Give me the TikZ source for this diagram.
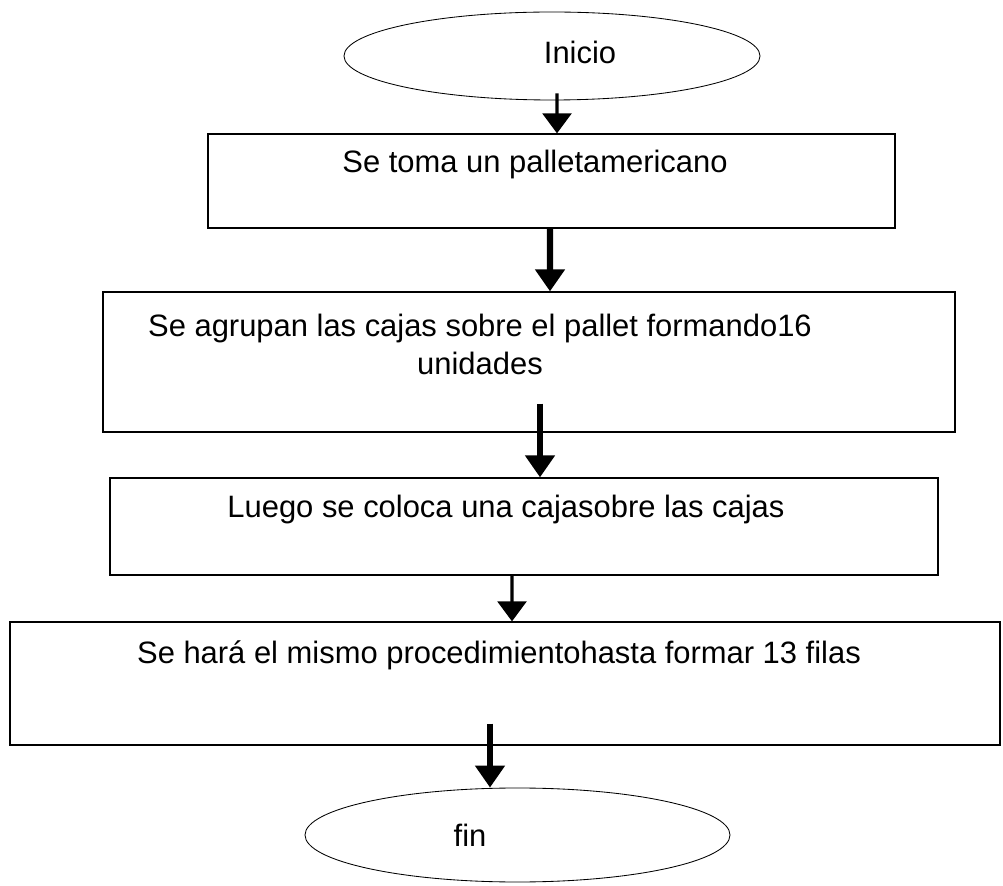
\documentclass[tikz,border=0pt]{standalone}
\usepackage{fontspec}
\setmainfont{Liberation Sans}
\usetikzlibrary{calc, shapes.geometric, arrows.meta}

\begin{document}
\begin{tikzpicture}[
        oval/.style={draw, ellipse, line width=0.6pt, inner sep=0pt},
        caja/.style={draw, rectangle, line width=0.9pt, inner sep=0pt},
        txt/.style={font=\fontsize{22}{27}\selectfont, align=center, inner sep=0pt},
        flecha/.style={line width=4.3pt, -{Triangle[width=0.72cm, length=0.55cm]}},
        flechita/.style={line width=2.2pt, -{Triangle[width=0.72cm, length=0.5cm]}}
    ]
    \useasboundingbox (0,0) rectangle (25.075,-22.15);

    \node[oval, minimum width=10.4cm, minimum height=2.2cm] (inicio) at (13.8,-1.4) {};
    \node[txt] (tinicio) at (14.5,-1.3) {Inicio};

    \node[caja, minimum width=17.175cm, minimum height=2.35cm] (toma) at (13.7875,-4.525) {};
    \node[txt] (ttoma) at (13.375,-4.125) {Se toma un palletamericano};

    \node[caja, minimum width=21.3cm, minimum height=3.5cm] (agrupan) at (13.225,-9.05) {};
    \node[txt] (tagrupan) at (12.0,-8.6) {Se agrupan las cajas sobre el pallet formando16\\unidades};

    \node[caja, minimum width=20.7cm, minimum height=2.425cm] (coloca) at (13.1,-13.1625) {};
    \node[txt] (tcoloca) at (12.65,-12.75) {Luego se coloca una cajasobre las cajas};

    \node[caja, minimum width=24.75cm, minimum height=3.075cm] (repite) at (12.625,-17.0875) {};
    \node[txt] (trepite) at (12.475,-16.375) {Se hará el mismo procedimientohasta formar 13 filas};

    \node[oval, minimum width=10.625cm, minimum height=2.35cm] (fin) at (12.9375,-20.875) {};
    \node[txt] (tfin) at (11.75,-20.875) {fin};

    \draw[flechita] ($(inicio.south)+(0.125,0.175)$) -- ($(toma.north)+(0.1375,0)$);
    \draw[flecha] ($(toma.south)+(-0.0375,0)$) -- ($(agrupan.north)+(0.525,0)$);
    \draw[flecha] ($(agrupan.south)+(0.275,0.725)$) -- ($(coloca.north)+(0.4,0)$);
    \draw[flechita] ($(coloca.south)+(-0.3,0)$) -- ($(repite.north)+(0.175,0)$);
    \draw[flecha] ($(repite.south)+(-0.375,0.55)$) -- ($(fin.north)+(-0.6875,0)$);
\end{tikzpicture}
\end{document}
